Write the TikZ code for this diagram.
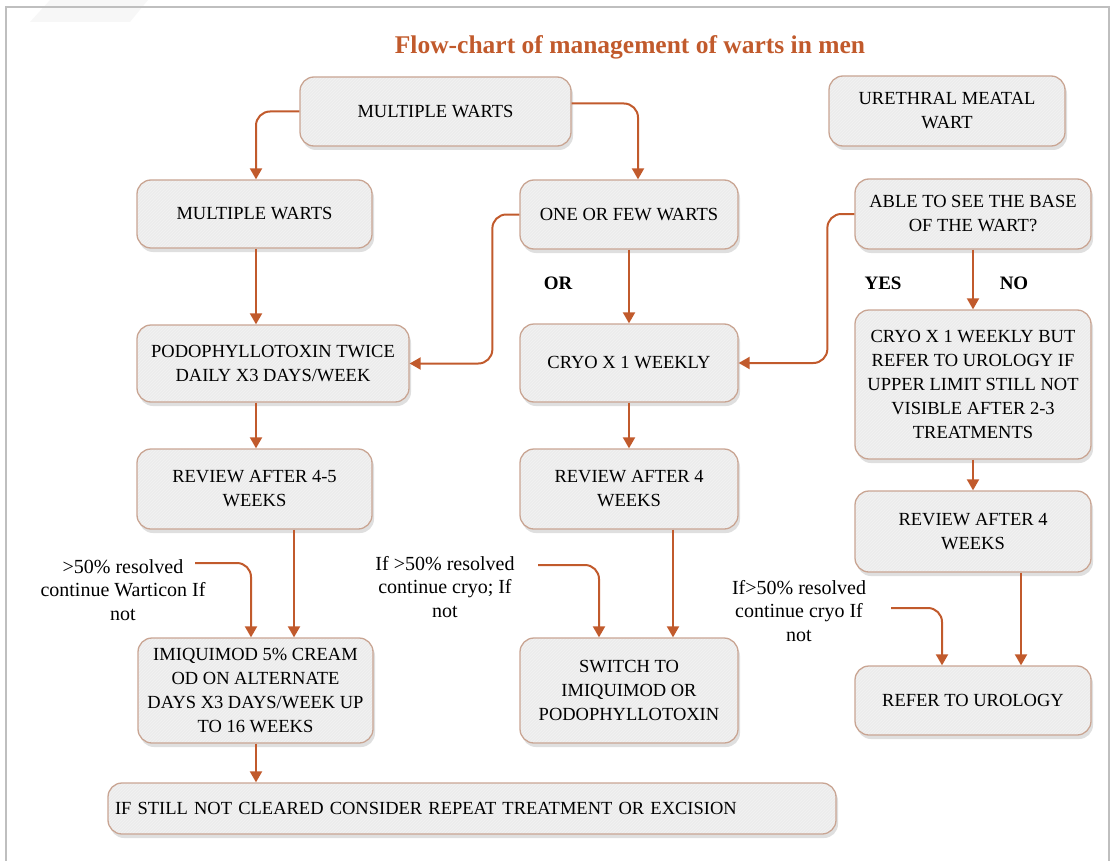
\documentclass[tikz,border=0pt]{standalone}
\usepackage{fontspec}
\setmainfont{Liberation Serif}
\usetikzlibrary{arrows.meta,shadows,patterns}
\definecolor{arrc}{HTML}{C15A2C}
\definecolor{boxfill}{HTML}{ECECEC}
\definecolor{hatchc}{HTML}{F3F3F3}
\definecolor{boxdraw}{HTML}{C9A593}
\definecolor{framec}{HTML}{BFBFBF}
\begin{document}
\begin{tikzpicture}[x=1pt,y=-1pt,
  box/.style={draw=boxdraw, line width=1.3pt, rounded corners=14pt,
    drop shadow={opacity=0.25, shadow xshift=2pt, shadow yshift=-4pt},
    preaction={fill=boxfill},
    pattern=north east lines, pattern color=hatchc,
    align=center, inner sep=0pt, font=\fontsize{18.5}{24}\selectfont},
  lab/.style={align=center, font=\fontsize{20}{23.5}\selectfont},
  tag/.style={font=\fontsize{19}{22}\selectfont\bfseries},
  ttlstyle/.style={font=\fontsize{25.5}{30}\selectfont\bfseries, text=arrc},
  arr/.style={draw=arrc, line width=2pt, -{Triangle[width=12pt,length=11pt]}, rounded corners=14pt}]
\useasboundingbox (0,0) rectangle (1110,861);
\fill[gray!6] (50,0) -- (148,0) -- (130,22) -- (30,22) -- cycle;
\draw[framec, line width=2.5pt] (6,870) -- (6,7) -- (1109,7) -- (1109,870);

\node[ttlstyle] (ttl) at (630,47) {Flow-chart of management of warts in men};

\node[box, minimum width=271, minimum height=69] (mwtop) at (435.5,111.5) {MULTIPLE WARTS};
\node[box, minimum width=236, minimum height=70] (ureth) at (947,111) {URETHRAL MEATAL\\WART};
\node[box, minimum width=235, minimum height=68] (mwleft) at (254.5,214) {MULTIPLE WARTS};
\node[box, minimum width=218, minimum height=69] (few) at (629,214.5) {ONE OR FEW WARTS};
\node[box, minimum width=236, minimum height=70] (able) at (973,214) {ABLE TO SEE THE BASE\\OF THE WART?};
\node[box, minimum width=272, minimum height=77] (podo) at (273,363.5) {PODOPHYLLOTOXIN TWICE\\DAILY X3 DAYS/WEEK};
\node[box, minimum width=218, minimum height=78] (cryo) at (629,363) {CRYO X 1 WEEKLY};
\node[box, minimum width=236, minimum height=149] (cryob) at (973,384.5) {CRYO X 1 WEEKLY BUT\\REFER TO UROLOGY IF\\UPPER LIMIT STILL NOT\\VISIBLE AFTER 2-3\\TREATMENTS};
\node[box, minimum width=235, minimum height=80] (rev45) at (254.5,489) {REVIEW AFTER 4-5\\WEEKS};
\node[box, minimum width=218, minimum height=80] (revm) at (629,489) {REVIEW AFTER 4\\WEEKS};
\node[box, minimum width=236, minimum height=81] (revr) at (973,531.5) {REVIEW AFTER 4\\WEEKS};
\node[box, minimum width=235, minimum height=105] (imi) at (255.5,690.5) {IMIQUIMOD 5\% CREAM\\OD ON ALTERNATE\\DAYS X3 DAYS/WEEK UP\\TO 16 WEEKS};
\node[box, minimum width=218, minimum height=105] (sw) at (629,690.5) {SWITCH TO\\IMIQUIMOD OR\\PODOPHYLLOTOXIN};
\node[box, minimum width=236, minimum height=69] (uro) at (973,700.5) {REFER TO UROLOGY};
\node[box, align=left, text width=714, inner xsep=7pt, minimum height=51] (still) at (472,808.5) {IF STILL NOT CLEARED CONSIDER REPEAT TREATMENT OR EXCISION};

\node[tag] (or) at (558,283) {OR};
\node[tag] (yes) at (883,283) {YES};
\node[tag] (no) at (1014,283) {NO};

\node[lab] (l1) at (123,590) {>50\% resolved\\continue Warticon If\\not};
\node[lab] (l2) at (445,587) {If >50\% resolved\\continue cryo; If\\not};
\node[lab] (l3) at (799,611) {If>50\% resolved\\continue cryo If\\not};

\coordinate (c1) at (195,563);
\coordinate (c2) at (538,565);
\coordinate (c3) at (891,608);

\draw[arr] (mwtop.west) -| ([xshift=1.5pt]mwleft.north);
\draw[arr] ([yshift=8pt]mwtop.east) -| ([xshift=9pt]few.north);
\draw[arr] ([xshift=1.5pt]mwleft.south) -- ([xshift=1.5pt]mwleft.south |- podo.north);
\draw[arr] (few.west) -- ++(-27,0) |- (podo.east);
\draw[arr] (few.south) -- (cryo.north);
\draw[arr] (able.west) -- ++(-27,0) |- (cryo.east);
\draw[arr] (able.south) -- (cryob.north);
\draw[arr] ([xshift=1.5pt]rev45.north |- podo.south) -- ([xshift=1.5pt]rev45.north);
\draw[arr] (cryo.south) -- (revm.north);
\draw[arr] (cryob.south) -- (revr.north);
\draw[arr] ([xshift=39.5pt]rev45.south) -- ([xshift=39.5pt]rev45.south |- imi.north);
\draw[arr] (c1) -| ([xshift=-4.5pt]imi.north);
\draw[arr] ([xshift=44pt]revm.south) -- ([xshift=44pt]revm.south |- sw.north);
\draw[arr] (c2) -| ([xshift=-30pt]sw.north);
\draw[arr] ([xshift=48pt]revr.south) -- ([xshift=48pt]revr.south |- uro.north);
\draw[arr] (c3) -| ([xshift=-31pt]uro.north);
\draw[arr] ([xshift=0.5pt]imi.south) -- ([xshift=0.5pt]imi.south |- still.north);
\end{tikzpicture}
\end{document}
